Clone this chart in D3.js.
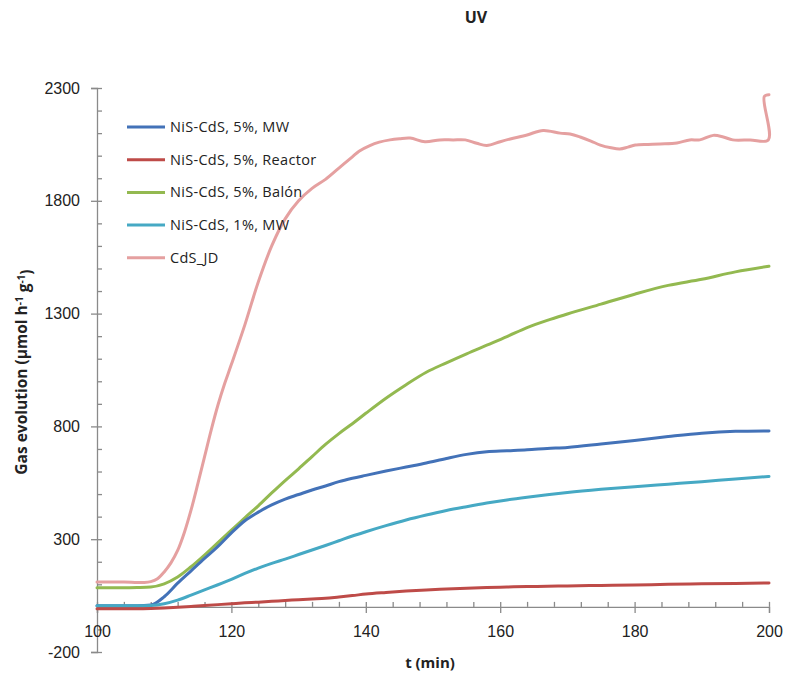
<!DOCTYPE html>
<html>
<head>
<meta charset="utf-8">
<script src="https://cdn.jsdelivr.net/npm/d3@7"></script>
<style>
  body { margin: 0; background: #fff; }
  svg { font-family: "Open Sans", sans-serif; }
</style>
</head>
<body>
<div id="chart"></div>
<script>
// time grid shared by the four NiS-CdS series (min)
const tGrid = [100,102,104,106,108,110,112,114,116,118,120,122,124,126,128,130,132,134,136,138,140,143,146,149,152,155,158,161,164,167,170,175,180,185,190,195,200];

const mw5      = [5,5,5,5,8,45,105,160,215,268,328,382,420,452,478,498,518,536,555,570,583,602,620,638,658,676,688,692,696,702,707,722,738,755,770,778,780];
const reactor5 = [-8,-8,-8,-8,-7,-5,-2,2,6,10,14,18,21,25,28,32,35,38,44,50,57,64,70,75,79,83,86,88,90,91,93,95,97,100,102,104,106];
const balon5   = [85,85,85,86,88,102,132,178,230,285,340,395,448,505,560,612,666,720,768,812,858,925,985,1040,1082,1122,1160,1198,1238,1270,1298,1342,1386,1425,1452,1485,1510];
const mw1      = [5,5,5,5,6,14,30,52,75,98,122,148,172,193,212,232,252,272,293,314,333,360,385,407,427,444,460,474,486,497,507,521,533,544,555,567,578];

// CdS_JD has its own time points (the last one steps back in time)
const tCdS = [100,102,104,106,107,108,109,110,111,112,113,114,115,116,117,118,119,120,122,124,126,128,130,132,134,136,138,139,140.6,142,143.6,145,146.6,148.8,151,153,154.8,156.5,158,160,161.5,164,166.4,168.9,170.4,171.9,173.5,174.9,176.5,177.8,179,180.1,182,183.8,186.3,188.2,189.7,191.7,193.2,194.6,197.2,199.9,199.3,200];
const cdsJD = [110,110,110,108,108,112,125,155,195,250,330,430,545,665,785,895,990,1075,1250,1440,1600,1720,1800,1855,1895,1945,1995,2020,2045,2060,2070,2075,2078,2062,2070,2070,2070,2055,2045,2062,2074,2092,2112,2100,2096,2083,2065,2047,2035,2030,2038,2047,2050,2052,2056,2070,2070,2090,2083,2070,2070,2070,2262,2270];

const seriesNames  = ["NiS-CdS, 5%, MW", "NiS-CdS, 5%, Reactor", "NiS-CdS, 5%, Balón", "NiS-CdS, 1%, MW", "CdS_JD"];
const seriesColors = ["#4372B8", "#BE4B48", "#93B950", "#46A9C4", "#E5A0A0"];

const xTicks = [100,120,140,160,180,200];
const yTicks = [-200,300,800,1300,1800,2300];

const width = 788, height = 683;

const svg = d3.select("#chart")
    .append("svg")
    .attr("width", width)
    .attr("height", height);

const x = d3.scaleLinear().domain([100, 200]).range([97, 769]);
const y = d3.scaleLinear().domain([-200, 2300]).range([652, 88]);

const axisColor = "#8a8a8a";

// y axis: minor ticks on the right, majors crossing with labels on the left
svg.append("g")
    .attr("transform", `translate(${x(100)},0)`)
    .call(d3.axisRight(y).tickValues(d3.range(-200, 2301, 100)).tickSize(5).tickFormat(""))
    .call(g => g.select(".domain").remove());

svg.append("g")
    .attr("transform", `translate(${x(100)},0)`)
    .call(d3.axisLeft(y).tickValues(yTicks).tickSize(6).tickPadding(11).tickFormat(d => String(d)))
    .call(g => g.selectAll("text").style("font-size", "16px").attr("fill", "#222"));

// x axis sits at y = 0
svg.append("g")
    .attr("transform", `translate(0,${y(0)})`)
    .call(d3.axisTop(x).tickValues(d3.range(100, 201, 4)).tickSize(5).tickFormat(""))
    .call(g => g.select(".domain").remove());

svg.append("g")
    .attr("transform", `translate(0,${y(0)})`)
    .call(d3.axisBottom(x).tickValues(xTicks).tickSize(6).tickPadding(13).tickFormat(d => String(d)))
    .call(g => g.selectAll("text").style("font-size", "16px").attr("fill", "#222"));

svg.selectAll(".domain, .tick line")
    .attr("stroke", axisColor)
    .attr("stroke-width", 1.3);

// lines
const gridLine = d3.line()
    .x(d => x(d[0]))
    .y(d => y(d[1]))
    .curve(d3.curveMonotoneX);

const cdsLine = d3.line()
    .x(d => x(d[0]))
    .y(d => y(d[1]))
    .curve(d3.curveCatmullRom.alpha(0.5));

const seriesData = [
    d3.zip(tGrid, mw5),
    d3.zip(tGrid, reactor5),
    d3.zip(tGrid, balon5),
    d3.zip(tGrid, mw1),
    d3.zip(tCdS, cdsJD)
];

// draw in reverse so the first series ends up on top
const order = [4, 2, 0, 3, 1];
svg.append("g")
    .selectAll("path")
    .data(order)
    .join("path")
    .attr("d", i => i === 4 ? cdsLine(seriesData[i]) : gridLine(seriesData[i]))
    .attr("fill", "none")
    .attr("stroke", i => seriesColors[i])
    .attr("stroke-width", 3)
    .attr("stroke-linejoin", "round")
    .attr("stroke-linecap", "round");

// legend
const legend = svg.append("g")
    .selectAll("g")
    .data(seriesNames)
    .join("g")
    .attr("transform", (d, i) => `translate(127, ${127 + i * 32.7})`);

legend.append("line")
    .attr("x1", 0).attr("x2", 38)
    .attr("stroke", (d, i) => seriesColors[i])
    .attr("stroke-width", 3);

legend.append("text")
    .attr("x", 43)
    .attr("dy", "0.35em")
    .style("font-size", "14.5px")
    .style("letter-spacing", "0.3px")
    .attr("fill", "#222")
    .text(d => d);

// title and axis labels
svg.append("text")
    .attr("x", 476).attr("y", 23)
    .attr("text-anchor", "middle")
    .style("font-size", "16px")
    .style("font-weight", "bold")
    .attr("fill", "#222")
    .text("UV");

svg.append("text")
    .attr("x", 430).attr("y", 668)
    .attr("text-anchor", "middle")
    .style("font-size", "15px")
    .style("font-weight", "bold")
    .attr("fill", "#222")
    .text("t (min)");

const yLabel = svg.append("text")
    .attr("transform", "translate(27,372) rotate(-90)")
    .attr("text-anchor", "middle")
    .style("font-size", "15.5px")
    .style("font-weight", "bold")
    .attr("fill", "#222");
yLabel.append("tspan").text("Gas evolution (µmol h");
yLabel.append("tspan").attr("dy", "-0.45em").style("font-size", "10px").text("-1");
yLabel.append("tspan").attr("dy", "0.45em").text(" g");
yLabel.append("tspan").attr("dy", "-0.45em").style("font-size", "10px").text("-1");
yLabel.append("tspan").attr("dy", "0.45em").text(")");
</script>
</body>
</html>
